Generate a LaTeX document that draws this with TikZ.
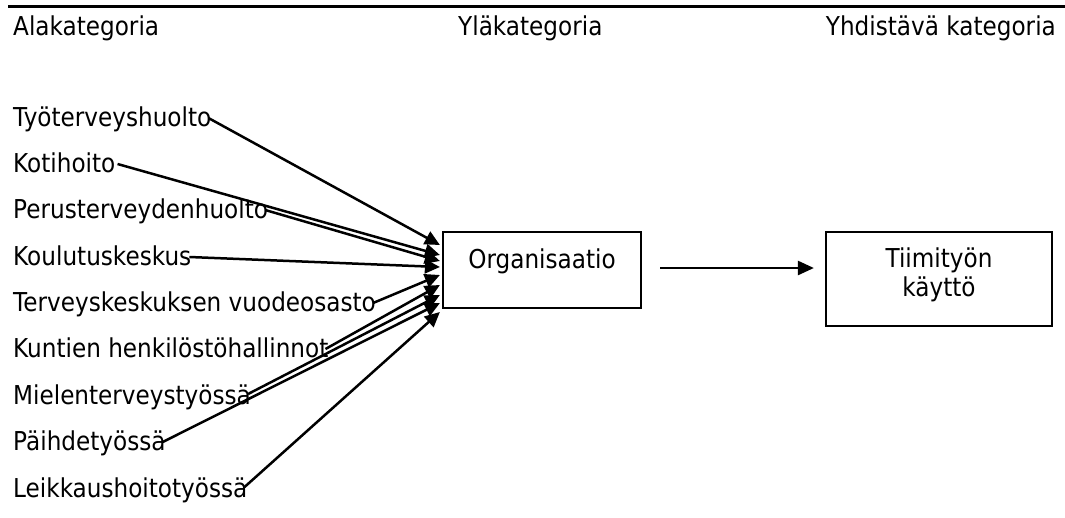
\documentclass[tikz,border=0pt]{standalone}
\usepackage{fontspec}
\setmainfont{DejaVu Sans}[FakeStretch=0.89]
\usetikzlibrary{arrows.meta}
\begin{document}
\begin{tikzpicture}[x=1pt,y=-1pt,
  txt/.style={font=\fontsize{26}{29}\selectfont, inner sep=0pt, text height=20pt, text depth=4pt},
  item/.style={txt, anchor=base west},
  box/.style={draw, line width=2.2pt, inner sep=0pt, font=\fontsize{26}{29}\selectfont},
  arr/.style={line width=2.5pt, -{Triangle[length=15pt,width=14pt]}},
  mainarr/.style={line width=2.5pt, -{Triangle[length=16pt,width=14pt]}}]
\useasboundingbox (0,0) rectangle (1065,517);
\draw[line width=3pt] (8,6.5) coordinate (rl) -- (1065,6.5) coordinate (rr);
% headers
\node[item] (h1) at (13,35) {Alakategoria};
\node[item] (h2) at (458,35) {Yläkategoria};
\node[txt, anchor=base east] (h3) at (1056,35) {Yhdistävä kategoria};
% left items
\node[item] (a1) at (13,126) {Työterveyshuolto};
\node[item] (a2) at (13,172) {Kotihoito};
\node[item] (a3) at (13,218) {Perusterveydenhuolto};
\node[item] (a4) at (13,265) {Koulutuskeskus};
\node[item] (a5) at (13,311) {Terveyskeskuksen vuodeosasto};
\node[item] (a6) at (13,357) {Kuntien henkilöstöhallinnot};
\node[item] (a7) at (13,404) {Mielenterveystyössä};
\node[item] (a8) at (13,450) {Päihdetyössä};
\node[item] (a9) at (13,497) {Leikkaushoitotyössä};
% boxes
\node[box, minimum width=198pt, minimum height=76pt, text height=20pt, text depth=24pt] (org) at (542,270) {Organisaatio};
\node[box, minimum width=226pt, minimum height=94pt, align=center] (tiim) at (939,279) {Tiimityön\\käyttö\rule[-14pt]{0pt}{0pt}};
% connectors
\draw[arr] ([xshift=-3pt]a1.east) -- ([xshift=-2pt,yshift=25pt]org.west);
\draw[arr] ([xshift=2pt]a2.east) -- ([xshift=-2pt,yshift=15pt]org.west);
\draw[arr] ([xshift=-3pt]a3.east) -- ([xshift=-2pt,yshift=9pt]org.west);
\draw[arr] ([xshift=-2pt]a4.east) -- ([xshift=-2pt,yshift=3pt]org.west);
\draw[arr] ([xshift=-3pt]a5.east) -- ([xshift=-2pt,yshift=-5pt]org.west);
\draw[arr] ([xshift=-3pt]a6.east) -- ([xshift=-2pt,yshift=-15pt]org.west);
\draw[arr] ([xshift=-3pt,yshift=2pt]a7.east) -- ([xshift=-2pt,yshift=-25pt]org.west);
\draw[arr] ([xshift=-3pt]a8.east) -- ([xshift=-2pt,yshift=-33pt]org.west);
\draw[arr] ([xshift=-3pt,yshift=2pt]a9.east) -- ([xshift=-2pt,yshift=-42pt]org.west);
\draw[mainarr] ([xshift=18pt,yshift=2pt]org.east) coordinate (s) -- ([xshift=-11pt]s -| tiim.west);
\end{tikzpicture}
\end{document}
